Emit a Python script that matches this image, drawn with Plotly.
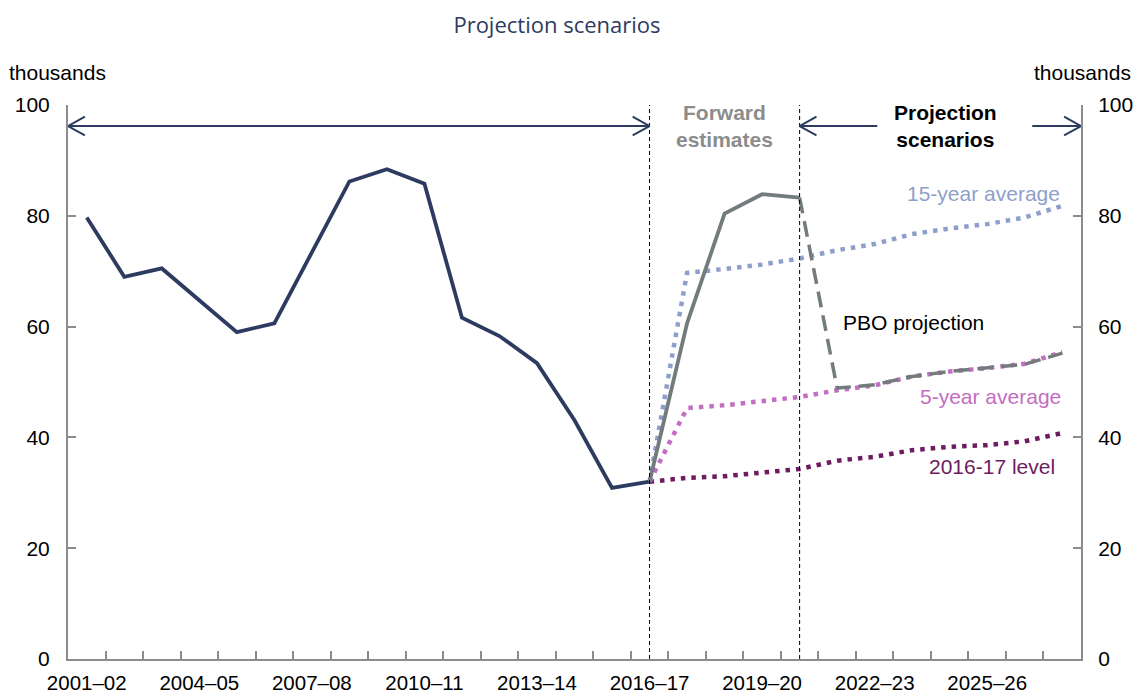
import plotly.graph_objects as go

categories = ["2001–02", "2002–03", "2003–04", "2004–05", "2005–06", "2006–07", "2007–08",
              "2008–09", "2009–10", "2010–11", "2011–12", "2012–13", "2013–14", "2014–15",
              "2015–16", "2016–17", "2017–18", "2018–19", "2019–20", "2020–21", "2021–22",
              "2022–23", "2023–24", "2024–25", "2025–26", "2026–27", "2027–28"]

history = [79.7, 69.0, 70.5, 64.8, 59.0, 60.6, 73.3, 86.2, 88.4, 85.8, 61.6, 58.3, 53.4, 43.1, 30.9, 32.0]
forward_est = [32.0, 60.6, 80.4, 83.9, 83.3]
pbo_projection = [83.3, 48.9, 49.5, 51.0, 51.9, 52.5, 53.2, 55.2]
avg15 = [32.0, 69.7, 70.4, 71.2, 72.3, 73.8, 74.9, 76.7, 77.7, 78.5, 79.7, 81.8]
avg5 = [32.0, 45.3, 45.8, 46.6, 47.3, 48.5, 49.4, 51.0, 51.9, 52.5, 53.3, 55.4]
level1617 = [32.0, 32.7, 33.0, 33.6, 34.3, 35.8, 36.5, 37.7, 38.3, 38.6, 39.3, 40.8]

y_ticks = [0, 20, 40, 60, 80, 100]

idx = list(range(len(categories)))
i_hist = idx[:len(history)]
i_fwd = idx[15:15 + len(forward_est)]
i_pbo = idx[19:19 + len(pbo_projection)]
i_proj = idx[15:15 + len(avg15)]

NAVY = "#2D3B61"
GREY = "#737C7C"
C15 = "#8E9FCB"
C5 = "#C36DC3"
CLV = "#6E1C60"
AXC = "#8C8C8C"
FONT = "Arial, Liberation Sans, sans-serif"
FS = 21

fig = go.Figure()
dot = "4.5px,6px"
fig.add_trace(go.Scatter(x=i_proj, y=level1617, mode="lines", line=dict(color=CLV, width=4.5, dash=dot),
                         hoverinfo="skip"))
fig.add_trace(go.Scatter(x=i_proj, y=avg5, mode="lines", line=dict(color=C5, width=4.5, dash=dot),
                         hoverinfo="skip"))
fig.add_trace(go.Scatter(x=i_proj, y=avg15, mode="lines", line=dict(color=C15, width=4.5, dash=dot),
                         hoverinfo="skip"))
fig.add_trace(go.Scatter(x=i_hist, y=history, mode="lines", line=dict(color=NAVY, width=3.8),
                         hoverinfo="skip"))
fig.add_trace(go.Scatter(x=i_fwd, y=forward_est, mode="lines", line=dict(color=GREY, width=3.8),
                         hoverinfo="skip"))
fig.add_trace(go.Scatter(x=i_pbo, y=pbo_projection, mode="lines",
                         line=dict(color=GREY, width=3.5, dash="16px,8px"), hoverinfo="skip"))
# invisible trace to anchor right axis
fig.add_trace(go.Scatter(x=i_hist, y=history, yaxis="y2", mode="lines", line=dict(width=0),
                         opacity=0, hoverinfo="skip"))

# vertical dashed separators
for xv in (15, 19):
    fig.add_shape(type="line", x0=xv, x1=xv, y0=0, y1=100, xref="x", yref="y",
                  line=dict(color="#000000", width=1, dash="4px,3px"))

# arrows
ya = 96.2
adx, ady = 0.45, 1.7
arrow_col = NAVY
segs = [(-0.5, 15), (19, 21.07), (25.2, 26.5)]
for a, b in segs:
    fig.add_shape(type="line", x0=a, x1=b, y0=ya, y1=ya, line=dict(color=arrow_col, width=2))
for tip, d in [(-0.5, 1), (15, -1), (19, 1), (26.5, -1)]:
    for s in (1, -1):
        fig.add_shape(type="line", x0=tip, y0=ya, x1=tip + d * adx, y1=ya + s * ady,
                      line=dict(color=arrow_col, width=2))

ann = []
ann.append(dict(x=17, y=96.2, text="<b>Forward<br>estimates</b>", showarrow=False,
                font=dict(color="#8C8C8C", size=FS, family=FONT), xanchor="center", yanchor="middle"))
ann.append(dict(x=22.9, y=96.2, text="<b>Projection<br>scenarios</b>", showarrow=False,
                font=dict(color="#000000", size=FS, family=FONT), xanchor="center", yanchor="middle"))
ann.append(dict(x=26.0, y=84.1, text="15-year average", showarrow=False,
                font=dict(color=C15, size=FS, family=FONT), xanchor="right", yanchor="middle"))
ann.append(dict(x=20.09, y=60.8, text="PBO projection", showarrow=False,
                font=dict(color="#000000", size=FS, family=FONT), xanchor="left", yanchor="middle"))
ann.append(dict(x=26.03, y=47.3, text="5-year average", showarrow=False,
                font=dict(color=C5, size=FS, family=FONT), xanchor="right", yanchor="middle"))
ann.append(dict(x=25.85, y=34.7, text="2016-17 level", showarrow=False,
                font=dict(color=CLV, size=FS, family=FONT), xanchor="right", yanchor="middle"))
ann.append(dict(xref="paper", yref="paper", x=-0.0099, y=1.0578, text="thousands", showarrow=False,
                font=dict(color="#000000", size=FS, family=FONT), xanchor="center", yanchor="middle"))
ann.append(dict(xref="paper", yref="paper", x=1.001, y=1.0578, text="thousands", showarrow=False,
                font=dict(color="#000000", size=FS, family=FONT), xanchor="center", yanchor="middle"))

fig.update_layout(
    width=1139, height=695,
    margin=dict(l=68, r=58, t=105, b=36, autoexpand=False),
    paper_bgcolor="white", plot_bgcolor="white",
    showlegend=False,
    title=dict(text="Projection scenarios", x=0.489, xanchor="center", y=0.964, yanchor="middle",
               font=dict(family="Open Sans, Noto Sans, sans-serif", size=22, color=NAVY)),
    annotations=ann,
    xaxis=dict(range=[-0.5, 26.5], tickmode="array", tickvals=idx[::3], automargin=False,
               ticktext=categories[::3], ticks="", showgrid=False, zeroline=False,
               showline=True, linecolor=AXC, linewidth=2,
               tickfont=dict(family=FONT, size=20.5, color="#000000"), ticklabelstandoff=4,
               minor=dict(tickmode="array", tickvals=[i + 0.5 for i in idx[:-1]], ticks="inside",
                          ticklen=8, tickcolor=AXC, tickwidth=1.5, showgrid=False)),
    yaxis=dict(range=[0, 100], tickvals=y_ticks, ticks="inside", ticklen=8, tickcolor=AXC,
               tickwidth=1.5, showgrid=False, zeroline=False, showline=True, linecolor=AXC,
               linewidth=2, tickfont=dict(family=FONT, size=FS, color="#000000"),
               ticklabelstandoff=12, automargin=False),
    yaxis2=dict(range=[0, 100], tickvals=y_ticks, overlaying="y", side="right", ticks="inside",
                ticklen=8, tickcolor=AXC, tickwidth=1.5, showgrid=False, zeroline=False,
                showline=True, linecolor=AXC, linewidth=2, automargin=False,
                tickfont=dict(family=FONT, size=FS, color="#000000"), ticklabelstandoff=11),
)

fig.write_html("out.html", config={"displayModeBar": False},
               post_script="document.body.style.margin='0';document.body.style.overflow='hidden';")
